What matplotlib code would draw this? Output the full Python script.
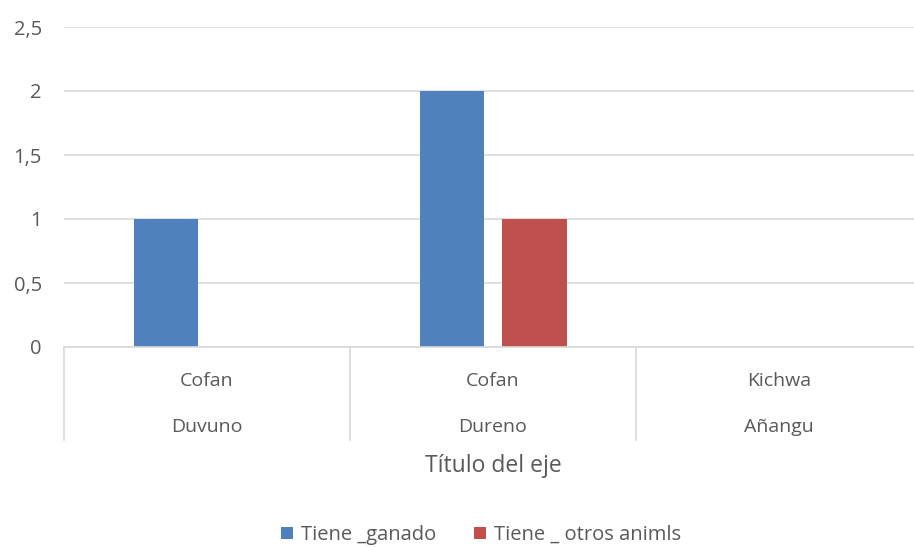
import matplotlib.pyplot as plt
import numpy as np

plt.rcParams['font.family'] = ['Open Sans', 'DejaVu Sans']

grupo = ["Cofan", "Cofan", "Kichwa"]
comunidad = ["Duvuno", "Dureno", "Añangu"]
ganado = [1, 2, 0]
otros = [0, 1, 0]
yticks = [0, 0.5, 1, 1.5, 2, 2.5]
ytick_labels = ["0", "0,5", "1", "1,5", "2", "2,5"]

txt = "#595959"
grid = "#D9D9D9"

fig = plt.figure(figsize=(9.14, 5.47), dpi=100)
# el grafico original esta recortado a la derecha
ax = fig.add_axes([64 / 914, 200 / 547, 858 / 914, 320 / 547])

x = np.arange(len(grupo))
w = 0.224
ax.bar(x - 0.142, ganado, w, color="#4F81BD", label="Tiene _ganado", zorder=3)
ax.bar(x + 0.145, otros, w, color="#C0504D", label="Tiene _ otros animls", zorder=3)

ax.set_xlim(-0.5, 2.5)
ax.set_ylim(0, 2.5)
ax.set_yticks(yticks)
ax.set_yticklabels(ytick_labels, color=txt, fontsize=14.5)
ax.tick_params(axis="y", length=0, pad=16)
ax.set_xticks([])
ax.yaxis.grid(True, color=grid, linewidth=1.2, zorder=0)
for s in ["top", "right", "left"]:
    ax.spines[s].set_visible(False)
ax.spines["bottom"].set_color(grid)
ax.spines["bottom"].set_linewidth(1.2)
ax.spines["bottom"].set_zorder(4)

tr = ax.get_xaxis_transform()
for xs in [-0.5, 0.5, 1.5]:
    ax.plot([xs, xs], [0, -93 / 320], color=grid, lw=1.2, transform=tr, clip_on=False)
for i in range(len(grupo)):
    ax.text(x[i], -34 / 320, grupo[i], transform=tr, ha="center", va="center", color=txt, fontsize=14)
    ax.text(x[i], -80 / 320, comunidad[i], transform=tr, ha="center", va="center", color=txt, fontsize=14)
ax.text(1, -119 / 320, "Título del eje", transform=tr, ha="center", va="center", color=txt, fontsize=16.5)

fig.legend(loc="center", bbox_to_anchor=(481 / 914, 12 / 547), ncol=2, frameon=False,
           fontsize=14.5, labelcolor=txt, handlelength=0.6, handleheight=0.6,
           handletextpad=0.4, columnspacing=1.9)

fig.savefig("out.png", dpi=100)
